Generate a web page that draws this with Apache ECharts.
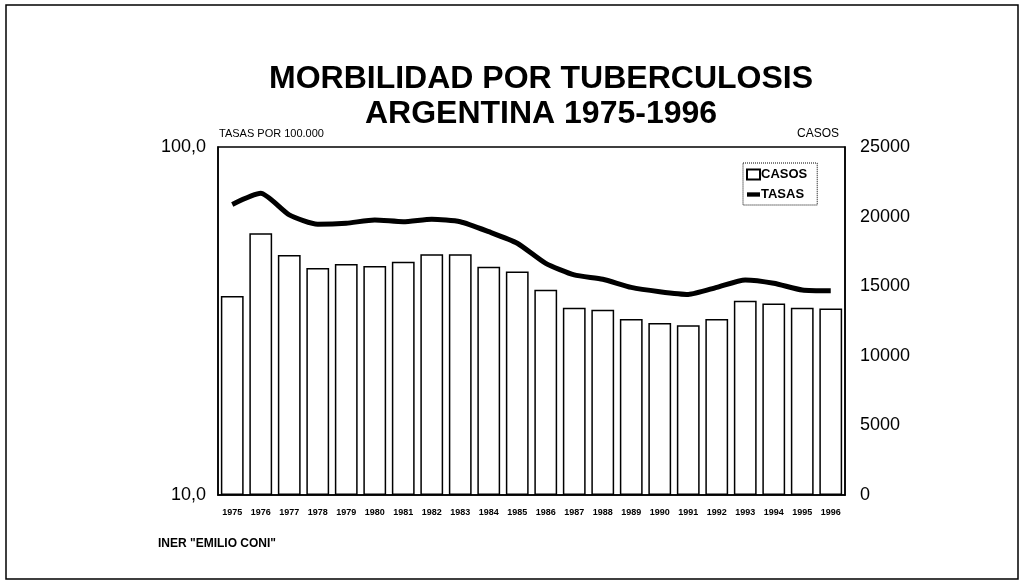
<!DOCTYPE html>
<html>
<head>
<meta charset="utf-8">
<script src="https://cdn.jsdelivr.net/npm/echarts@6/dist/echarts.min.js"></script>
<style>
html,body{margin:0;padding:0;background:#fff;}
#c{width:1021px;height:582px;}
</style>
</head>
<body>
<div id="c"></div>
<script>
var years = ['1975','1976','1977','1978','1979','1980','1981','1982','1983','1984','1985','1986','1987','1988','1989','1990','1991','1992','1993','1994','1995','1996'];
var casos = [14300,18800,17250,16300,16600,16450,16750,17300,17300,16400,16050,14750,13450,13300,12650,12350,12200,12650,13950,13750,13450,13400];
var tasas = [68.4,73.6,63.8,60.0,60.4,61.7,61.0,62.0,61.0,57.1,52.9,46.3,42.9,41.7,39.5,38.4,37.7,39.5,41.5,40.6,38.8,38.6];

var chart = echarts.init(document.getElementById('c'), null, {renderer:'canvas'});
var FF = 'Liberation Sans, Arial, sans-serif';
chart.setOption({
  animation:false,
  backgroundColor:'#fff',
  textStyle:{fontFamily:FF,color:'#000'},
  title:[
    {text:'MORBILIDAD POR TUBERCULOSIS\nARGENTINA 1975-1996', left:536, top:57, textAlign:'center',
     textStyle:{fontFamily:FF,fontSize:32,fontWeight:'bold',color:'#000',lineHeight:35}},
  ],
  graphic:[
    {type:'rect', shape:{x:6,y:5,width:1012,height:574}, style:{fill:'none',stroke:'#000',lineWidth:1.5}, silent:true},
    {type:'text', left:219, top:128, style:{text:'TASAS POR 100.000', font:'11px '+FF, fill:'#000'}},
    {type:'text', right:182, top:128, style:{text:'CASOS', font:'12px '+FF, fill:'#000'}},
    {type:'text', left:158, top:538, style:{text:'INER "EMILIO CONI"', font:'bold 12px '+FF, fill:'#000'}}
  ],
  legend:{
    orient:'vertical', left:743, top:163, padding:[5,10,4,3], itemGap:7,
    borderColor:'#000', borderWidth:1, borderType:'dotted',
    itemWidth:13, itemHeight:10,
    textStyle:{fontFamily:FF,fontSize:13,fontWeight:'bold',color:'#000',padding:[0,0,0,-4]},
    data:[{name:'CASOS',icon:'rect'},{name:'TASAS',icon:'path://M0,3 L12,3 L12,7 L0,7 Z'}]
  },
  grid:{left:218,right:176,top:147,bottom:87,show:true,borderColor:'#000',borderWidth:1.5,backgroundColor:'transparent'},
  xAxis:{
    type:'category', data:years,
    axisLine:{lineStyle:{color:'#000',width:1.5}},
    axisTick:{show:false},
    axisLabel:{fontFamily:FF,fontSize:9,fontWeight:'bold',color:'#000',margin:13,interval:0}
  },
  yAxis:[
    {type:'log', logBase:10, min:10, max:100, position:'left',
     axisLine:{show:true,lineStyle:{color:'#000',width:1.5}},
     axisTick:{show:false}, splitLine:{show:false}, minorTick:{show:false},
     axisLabel:{fontFamily:FF,fontSize:18,color:'#000',margin:12,
       formatter:function(v){return v.toFixed(1).replace('.',',');}}},
    {type:'value', min:0, max:25000, interval:5000, position:'right',
     axisLine:{show:true,lineStyle:{color:'#000',width:1.5}},
     axisTick:{show:false}, splitLine:{show:false},
     axisLabel:{fontFamily:FF,fontSize:18,color:'#000',margin:15,
       formatter:function(v){return String(v);}}}
  ],
  series:[
    {name:'CASOS', type:'bar', yAxisIndex:1, data:casos, barCategoryGap:'20%',
     itemStyle:{color:'#fff',borderColor:'#000',borderWidth:1.5}},
    {name:'TASAS', type:'line', yAxisIndex:0, data:tasas, smooth:0.2, symbol:'none',
     lineStyle:{color:'#000',width:5}, itemStyle:{color:'#000'}, z:5}
  ]
});
</script>
</body>
</html>
